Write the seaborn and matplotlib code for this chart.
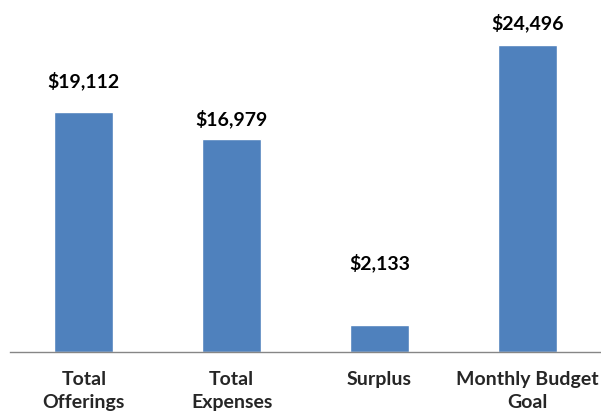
import matplotlib
matplotlib.use("Agg")
import matplotlib.pyplot as plt
import seaborn as sns
import pandas as pd

categories = ["Total\nOfferings", "Total\nExpenses", "Surplus", "Monthly Budget\nGoal"]
amounts = [19112, 16979, 2133, 24496]
value_labels = ["$19,112", "$16,979", "$2,133", "$24,496"]

# label gaps above each bar (points), as placed in the original
label_gaps = [16, 8, 38, 9]

sns.set_style("white")
plt.rcParams["font.family"] = ["Lato", "DejaVu Sans"]

df = pd.DataFrame({"category": categories, "amount": amounts})

fig = plt.figure(figsize=(6.01, 4.11), dpi=100)
ax = fig.add_axes([10 / 601, 59 / 411, 591 / 601, 352 / 411])

sns.barplot(data=df, x="category", y="amount", color="#4F81BD", saturation=1,
            width=0.4, ax=ax)

for i, (amt, lab) in enumerate(zip(amounts, value_labels)):
    ax.annotate(lab, (i, amt), xytext=(0, label_gaps[i]), textcoords="offset points",
                ha="center", va="bottom", fontsize=14, fontweight="bold", color="#000000")

ax.set_xlim(-0.5, 3.5)
ax.set_ylim(0, 28050)
ax.set_xlabel("")
ax.set_ylabel("")
ax.set_yticks([])
ax.tick_params(axis="x", length=0, pad=14, labelsize=14)
for t in ax.get_xticklabels():
    t.set_fontweight("bold")
    t.set_linespacing(1.4)

for s in ["top", "right", "left"]:
    ax.spines[s].set_visible(False)
ax.spines["bottom"].set_color("#868686")
ax.spines["bottom"].set_linewidth(1)

fig.savefig("out.png", dpi=100)
